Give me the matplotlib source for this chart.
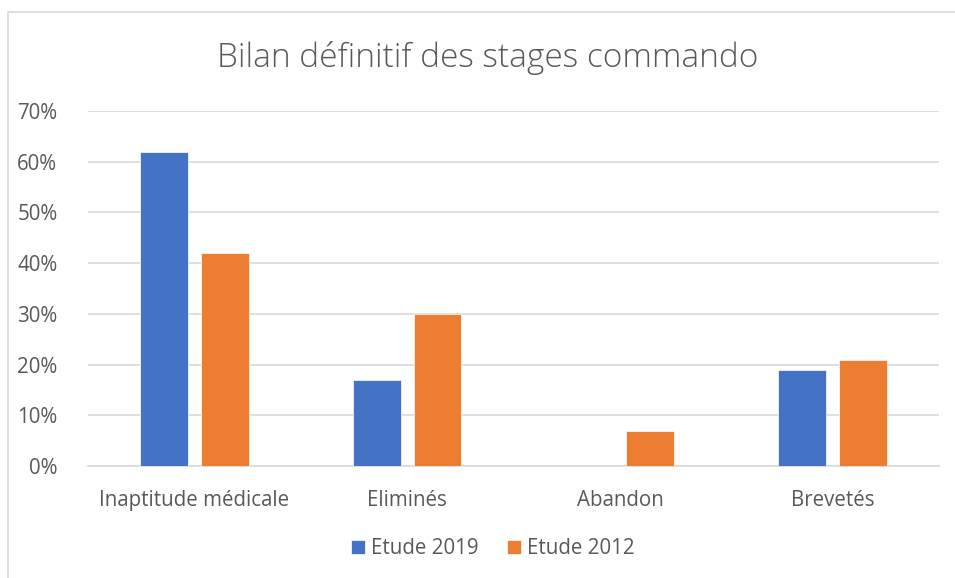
import numpy as np
import matplotlib.pyplot as plt
from matplotlib.patches import Rectangle

categories = ["Inaptitude médicale", "Eliminés", "Abandon", "Brevetés"]
etude_2019 = [0.62, 0.17, 0.0, 0.19]
etude_2012 = [0.42, 0.30, 0.07, 0.21]
yticks = [0, 0.1, 0.2, 0.3, 0.4, 0.5, 0.6, 0.7]
ytick_labels = ["0%", "10%", "20%", "30%", "40%", "50%", "60%", "70%"]

plt.rcParams['font.family'] = ['Open Sans', 'DejaVu Sans']
grey = "#595959"

fig = plt.figure(figsize=(9.55, 5.78), dpi=100)
fig.patches.append(Rectangle((8 / 955, -0.1), 1.2, 1 - 12 / 578 + 0.1,
                             transform=fig.transFigure, fill=False,
                             edgecolor="#D9D9D9", linewidth=1.2))

ax = fig.add_axes([88 / 955, (578 - 466) / 578, (939 - 88) / 955, (466 - 111) / 578])

x = np.arange(len(categories))
w = 0.225
ax.bar(x - 0.143, etude_2019, w, color="#4472C4", label="Etude 2019", zorder=3,
       edgecolor="white", linewidth=0.5)
ax.bar(x + 0.143, etude_2012, w, color="#ED7D31", label="Etude 2012", zorder=3,
       edgecolor="white", linewidth=0.5)

ax.set_xlim(-0.5, 3.5)
ax.set_ylim(0, 0.7)
ax.set_yticks(yticks)
ax.set_yticklabels(ytick_labels)
ax.set_xticks(x)
ax.set_xticklabels(categories)
ax.grid(axis="y", color="#D9D9D9", linewidth=1.2, zorder=0)
for s in ["top", "right", "left"]:
    ax.spines[s].set_visible(False)
ax.spines["bottom"].set_color("#D9D9D9")
ax.spines["bottom"].set_linewidth(1.2)
ax.tick_params(length=0, colors=grey, labelsize=14.8)
ax.tick_params(axis="y", pad=22)
ax.tick_params(axis="x", pad=17)

fig.text(488 / 955, 1 - 58 / 578, "Bilan définitif des stages commando",
         ha="center", va="center", fontsize=24, color=grey, fontweight="light")

fig.legend(loc="center", bbox_to_anchor=(493 / 955, 1 - 549 / 578), ncol=2,
           frameon=False, fontsize=14.8, labelcolor=grey, handlelength=0.65,
           handleheight=0.65, handletextpad=0.3, columnspacing=1.4)

fig.savefig("out.png", dpi=100)
